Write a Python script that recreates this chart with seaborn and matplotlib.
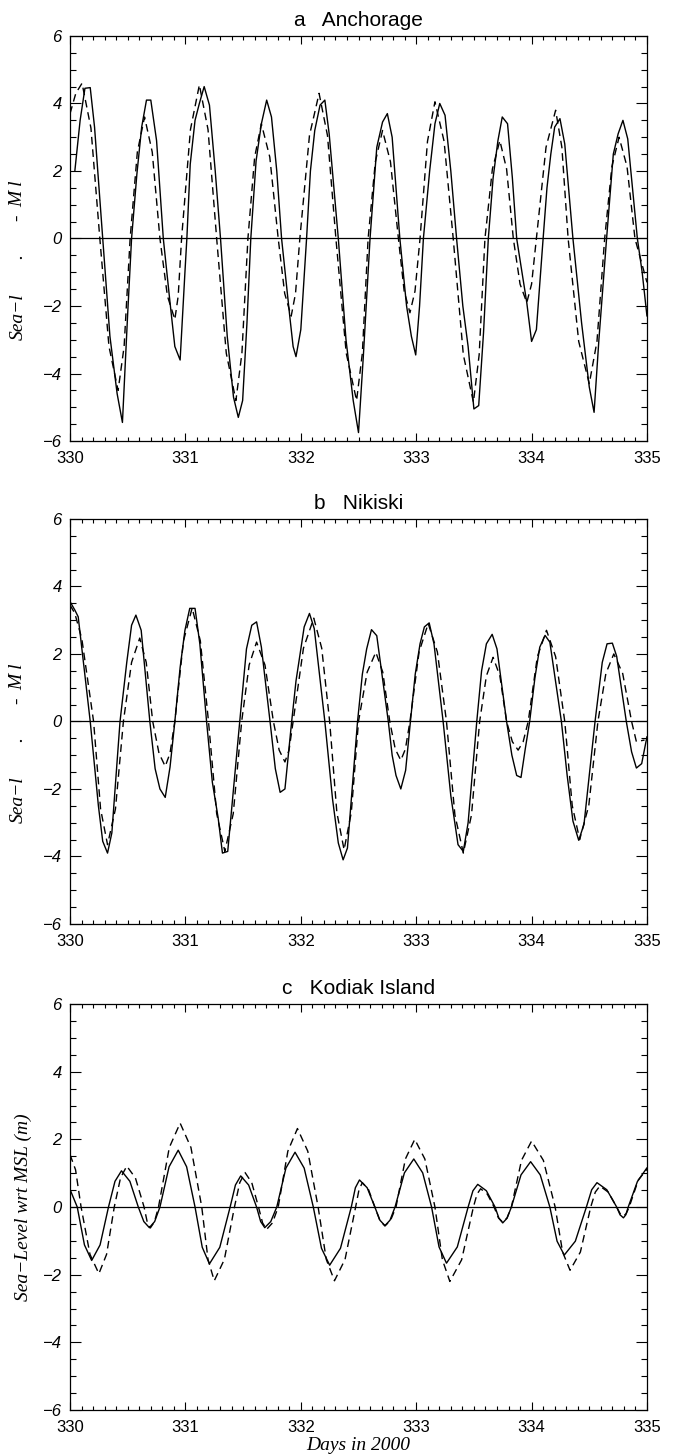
import matplotlib
matplotlib.use("Agg")
import matplotlib.pyplot as plt
import seaborn as sns
from matplotlib.ticker import MultipleLocator

# ---- data: hours after day 330 and sea level (m) ----
# solid = observed, dashed = model
a_obs_h = [1, 2.1, 3.1, 4.2, 5.1, 6.8, 8.3, 9.8, 10.9, 12.0, 12.8, 13.9, 14.9, 15.9, 16.8, 18.0, 19.4, 20.8, 21.8, 22.9,
           23.9, 24.3, 25.0, 26.0, 26.9, 27.9, 29.0, 30.2, 31.3, 32.7, 34.0, 35.0, 35.9, 36.8, 37.6, 38.7, 39.8, 40.9,
           41.9, 43.0, 44.0, 45.7, 46.4, 47.0, 48.0, 49.2, 50.0, 50.9, 52.0, 53.0, 53.9, 55.8, 57.4, 58.9, 60.0, 61.0,
           62.4, 63.8, 65.0, 66.0, 67.0, 68.6, 70.0, 71.0, 71.9, 72.7, 73.5, 74.8, 75.9, 76.9, 78.0, 79.2, 80.4, 81.7,
           82.8, 84.0, 85.0, 86.0, 87.0, 88.0, 89.0, 89.9, 91.0, 92.0, 92.9, 94.0, 95.0, 96.0, 97.0, 98.4, 99.2, 100.0,
           100.8, 101.9, 102.9, 104.6, 106.4, 108.0, 109.0, 110.0, 111.6, 113.0, 114.0, 115.0, 116.0, 118.0, 119.0, 120.0]
a_obs_v = [2.0, 3.5, 4.45, 4.47, 3.3, 0, -2.9, -4.6, -5.45, -2.2, 0, 1.9, 3.3, 4.1, 4.1, 2.9, 0, -1.9, -3.2, -3.6,
           -1.0, 0, 2.2, 3.5, 4.0, 4.5, 3.95, 2.0, 0, -2.9, -4.7, -5.3, -4.8, -2.5, 0, 2.3, 3.4, 4.1,
           3.6, 2.0, 0, -2.3, -3.2, -3.5, -2.7, 0, 2.0, 3.2, 3.95, 4.1, 3.1, 0, -3.0, -4.8, -5.75, -3.5,
           0, 2.7, 3.45, 3.7, 3.0, 0, -2.0, -2.9, -3.45, -2.0, 0, 2.0, 3.4, 4.0, 3.65, 2.0, 0, -2.0,
           -3.2, -5.05, -4.95, -2.8, 0, 1.8, 2.9, 3.6, 3.4, 1.8, 0, -1.0, -1.9, -3.05, -2.7, 0, 1.5, 2.5,
           3.3, 3.55, 2.8, 0, -2.5, -4.4, -5.15, -3.0, 0, 2.5, 3.1, 3.5, 2.95, 0, -1.0, -2.3]

a_mod_h = [0, 1.2, 2.5, 4.35, 6.2, 8.1, 10.0, 11.25, 12.5, 14.0, 15.5, 17.1, 18.7, 20.25, 21.8, 22.5, 23.2, 25.05,
           26.9, 28.7, 30.5, 32.5, 34.5, 35.75, 37.0, 38.4, 39.8, 41.55, 43.3, 44.65, 46.0, 46.9, 47.8, 49.8, 51.8,
           53.55, 55.3, 57.45, 59.6, 60.8, 62.0, 63.5, 65.0, 66.65, 68.3, 69.5, 70.7, 71.75, 72.8, 74.35, 75.9, 77.8,
           79.7, 81.8, 83.9, 85.1, 86.3, 87.85, 89.4, 90.8, 92.2, 93.6, 95.0, 96.0, 97.0, 99.0, 101.0, 102.3, 103.6,
           105.8, 108.0, 109.6, 111.2, 112.7, 114.2, 115.85, 117.5, 120.0]
a_mod_v = [3.7, 4.3, 4.6, 3.27, 0, -3.2, -4.5, -3.2, 0, 2.56, 3.6, 2.56, 0, -1.7, -2.4, -1.7, 0, 3.23,
           4.55, 3.23, 0, -3.4, -4.8, -3.4, 0, 2.41, 3.4, 2.41, 0, -1.63, -2.3, -1.63, 0, 3.05, 4.3,
           3.05, 0, -3.4, -4.8, -3.4, 0, 2.27, 3.2, 2.27, 0, -1.56, -2.2, -1.56, 0, 2.88, 4.05, 2.88,
           0, -3.44, -4.85, -3.44, 0, 2.06, 2.9, 2.06, 0, -1.35, -1.9, -1.35, 0, 2.7, 3.8, 2.7, 0,
           -3.05, -4.3, -3.05, 0, 2.13, 3.0, 2.13, 0, -1.3]

b_obs_h = [0, 1.0, 1.7, 4.2, 5.9, 6.8, 7.8, 8.7, 10.4, 11.8, 12.8, 13.7, 14.8, 16.6, 17.7, 18.7, 19.8, 20.8, 21.8,
           22.9, 23.9, 24.9, 26.0, 27.0, 28.4, 29.6, 30.8, 31.7, 32.8, 34.0, 35.3, 36.7, 37.8, 38.8, 39.8, 41.6, 42.7,
           43.7, 44.7, 46.1, 47.0, 47.8, 48.7, 49.8, 50.8, 53.0, 54.6, 55.8, 56.8, 57.7, 59.8, 60.8, 61.7, 62.7, 63.8,
           66.2, 67.0, 67.8, 68.8, 69.8, 70.8, 71.8, 72.8, 73.7, 74.7, 75.7, 77.6, 79.2, 80.7, 81.8, 82.8, 84.6, 85.6,
           86.6, 87.8, 88.8, 90.8, 91.9, 92.9, 93.8, 94.7, 95.6, 96.7, 97.7, 98.8, 99.8, 102.2, 103.4, 104.6, 105.8,
           106.9, 109.2, 110.7, 111.7, 112.8, 113.7, 115.7, 116.8, 117.8, 118.9, 120.0]
b_obs_v = [3.55, 3.3, 3.1, 0, -2.5, -3.55, -3.9, -3.3, 0, 1.75, 2.85, 3.15, 2.7, 0, -1.4, -2.0, -2.25, -1.35, 0,
           1.6, 2.7, 3.35, 3.35, 2.3, 0, -1.8, -2.85, -3.9, -3.85, -2.0, 0, 2.15, 2.85, 2.95, 2.2, 0, -1.4,
           -2.1, -2.0, 0, 1.2, 1.95, 2.8, 3.2, 2.75, 0, -2.3, -3.6, -4.1, -3.75, 0, 1.4, 2.15, 2.72, 2.54,
           0, -1.0, -1.6, -2.0, -1.45, 0, 1.4, 2.3, 2.8, 2.92, 2.3, 0, -2.2, -3.65, -3.85, -3.0, 0, 1.5,
           2.3, 2.58, 2.15, 0, -1.0, -1.6, -1.66, -0.8, 0, 1.3, 2.2, 2.55, 2.35, 0, -1.6, -2.95, -3.52,
           -3.05, 0, 1.75, 2.3, 2.32, 1.93, 0, -0.9, -1.38, -1.25, -0.45]

b_mod_h = [0, 1.0, 2.45, 4.9, 6.35, 7.8, 9.45, 11.1, 12.8, 14.5, 15.85, 17.2, 18.5, 19.8, 20.8, 21.8, 23.6, 25.4,
           27.1, 28.8, 30.5, 32.2, 33.95, 35.7, 37.25, 38.8, 40.55, 42.3, 43.5, 44.7, 45.55, 46.4, 48.55, 50.7, 52.35,
           54.0, 55.5, 57.0, 58.5, 60.0, 61.8, 63.6, 65.05, 66.5, 67.65, 68.8, 69.75, 70.7, 72.6, 74.5, 76.4, 78.3,
           80.05, 81.8, 83.5, 85.2, 86.6, 88.0, 89.4, 90.8, 92.0, 93.2, 94.25, 95.3, 97.2, 99.1, 101.0, 102.9,
           104.45, 106.0, 107.9, 109.8, 111.45, 113.1, 114.95, 116.8, 117.8, 119.5]
b_mod_v = [3.45, 3.2, 2.45, 0, -2.59, -3.65, -2.59, 0, 1.75, 2.47, 1.75, 0, -0.94, -1.33, -0.94, 0, 2.39, 3.36,
           2.39, 0, -2.73, -3.85, -2.73, 0, 1.67, 2.35, 1.67, 0, -0.85, -1.2, -0.85, 0, 2.17, 3.06, 2.17,
           0, -2.7, -3.8, -2.7, 0, 1.46, 2.05, 1.46, 0, -0.82, -1.15, -0.82, 0, 2.06, 2.9, 2.06, 0,
           -2.77, -3.9, -2.77, 0, 1.35, 1.9, 1.35, 0, -0.6, -0.85, -0.6, 0, 1.92, 2.7, 1.92, 0,
           -2.49, -3.5, -2.49, 0, 1.42, 2.0, 1.42, 0, -0.6, -0.55]

c_obs_h = [0, 1.5, 3.0, 4.5, 6.25, 8.0, 9.35, 10.7, 12.45, 14.2, 15.35, 16.5, 17.6, 18.7, 20.6, 22.5, 24.25, 26.0,
           27.5, 29.0, 31.15, 33.3, 34.4, 35.5, 37.15, 38.8, 39.65, 40.5, 41.75, 43.0, 44.9, 46.8, 48.7, 50.6, 52.3,
           54.0, 56.25, 58.5, 59.35, 60.2, 61.8, 63.4, 64.45, 65.5, 66.55, 67.6, 69.55, 71.5, 73.35, 75.2, 76.75,
           78.3, 80.55, 82.8, 83.8, 84.8, 86.6, 88.4, 89.2, 90.0, 90.9, 91.8, 93.8, 95.8, 97.8, 99.8, 101.3, 102.8,
           105.1, 107.4, 108.5, 109.6, 111.65, 113.7, 114.4, 115.1, 115.6, 116.1, 118.0, 120.0]
c_obs_v = [0.52, 0, -1.12, -1.58, -1.12, 0, 0.76, 1.07, 0.76, 0, -0.43, -0.61, -0.43, 0, 1.19, 1.68, 1.19, 0,
           -1.19, -1.68, -1.19, 0, 0.65, 0.92, 0.65, 0, -0.43, -0.61, -0.43, 0, 1.15, 1.62, 1.15, 0, -1.22,
           -1.72, -1.22, 0, 0.57, 0.8, 0.57, 0, -0.39, -0.55, -0.39, 0, 1.01, 1.42, 1.01, 0, -1.18,
           -1.66, -1.18, 0, 0.48, 0.67, 0.48, 0, -0.33, -0.47, -0.33, 0, 0.95, 1.34, 0.95, 0, -1.01, -1.42,
           -1.01, 0, 0.51, 0.72, 0.51, 0, -0.23, -0.32, -0.23, 0, 0.75, 1.16]

c_mod_h = [0, 1.15, 2.3, 4.15, 6.0, 7.6, 9.2, 10.5, 11.8, 13.6, 15.4, 16.05, 16.7, 17.55, 18.4, 20.65, 22.9, 25.15,
           27.4, 28.7, 30.0, 32.1, 34.2, 35.3, 36.4, 37.8, 39.2, 40.05, 40.9, 42.1, 43.3, 45.3, 47.3, 49.45, 51.6,
           53.3, 55.0, 57.2, 59.4, 60.1, 60.8, 62.1, 63.4, 64.45, 65.5, 66.65, 67.8, 69.75, 71.7, 73.8, 75.9, 77.45,
           79.0, 81.45, 83.9, 84.65, 85.4, 86.8, 88.2, 89.1, 90.0, 90.9, 91.8, 93.9, 96.0, 98.45, 100.9, 102.45,
           104.0, 106.15, 108.3, 109.25, 110.2, 111.95, 113.7, 114.4, 115.1, 115.7, 116.3, 118.2, 120.0]
c_mod_v = [1.55, 1.1, 0, -1.4, -1.97, -1.4, 0, 0.86, 1.21, 0.86, 0, -0.44, -0.62, -0.44, 0, 1.76, 2.48, 1.76,
           0, -1.55, -2.18, -1.55, 0, 0.72, 1.02, 0.72, 0, -0.47, -0.66, -0.47, 0, 1.65, 2.32, 1.65, 0,
           -1.55, -2.18, -1.55, 0, 0.51, 0.72, 0.51, 0, -0.4, -0.56, -0.4, 0, 1.42, 2.0, 1.42, 0, -1.56,
           -2.2, -1.56, 0, 0.38, 0.54, 0.38, 0, -0.32, -0.45, -0.32, 0, 1.38, 1.95, 1.38, 0, -1.33,
           -1.87, -1.33, 0, 0.44, 0.62, 0.44, 0, -0.19, -0.27, -0.19, 0, 0.8, 1.12]

titles = ["a   Anchorage", "b   Nikiski", "c   Kodiak Island"]
day0 = 330
xticks = [330, 331, 332, 333, 334, 335]
yticks = [-6, -4, -2, 0, 2, 4, 6]

sns.set_style("ticks")
plt.rcParams["font.family"] = ["Liberation Sans", "DejaVu Sans"]
# plain black text and frame, like the original IDL plot
for key in ["text.color", "axes.labelcolor", "xtick.color", "ytick.color", "axes.edgecolor"]:
    plt.rcParams[key] = "black"


# draw one station panel: solid observed and dashed model curve
def station_plot(ax, obs_h, obs_v, mod_h, mod_v, title):
    sns.lineplot(x=[day0 + h / 24 for h in obs_h], y=obs_v, ax=ax, color="black",
                 linewidth=1.0, sort=False, estimator=None)
    sns.lineplot(x=[day0 + h / 24 for h in mod_h], y=mod_v, ax=ax, color="black",
                 linewidth=1.0, sort=False, estimator=None, linestyle=(0, (5.5, 3.5)))
    ax.axhline(0, color="black", linewidth=0.9)
    ax.set_xlim(330, 335)
    ax.set_ylim(-6, 6)
    ax.set_xticks(xticks)
    ax.set_yticks(yticks)
    ax.xaxis.set_minor_locator(MultipleLocator(0.1))
    ax.yaxis.set_minor_locator(MultipleLocator(0.5))
    ax.tick_params(axis="x", which="major", direction="in", length=6, width=0.8,
                   top=True, labelsize=12, pad=7)
    ax.tick_params(axis="x", which="minor", direction="in", length=3, width=0.8, top=True)
    ax.tick_params(axis="y", which="major", direction="in", length=8, width=0.8,
                   right=True, labelsize=12, pad=6)
    ax.tick_params(axis="y", which="minor", direction="in", length=4.5, width=0.8, right=True)
    for lab in ax.get_yticklabels():
        lab.set_fontstyle("italic")
    for side in ax.spines.values():
        side.set_linewidth(0.9)
        side.set_visible(True)
    ax.set_xlabel("")
    ax.set_ylabel("")
    ax.set_title(title, fontsize=15, pad=7)
    return ax


fig = plt.figure(figsize=(6.74, 14.56), dpi=100)
ax_a = fig.add_axes([0.1039, 0.6971, 0.856, 0.2782])
ax_b = fig.add_axes([0.1039, 0.3654, 0.856, 0.2782])
ax_c = fig.add_axes([0.1039, 0.0316, 0.856, 0.2788])

station_plot(ax_a, a_obs_h, a_obs_v, a_mod_h, a_mod_v, titles[0])
station_plot(ax_b, b_obs_h, b_obs_v, b_mod_h, b_mod_v, titles[1])
station_plot(ax_c, c_obs_h, c_obs_v, c_mod_h, c_mod_v, titles[2])

# upper panels only show pieces of the y label
serif_it = dict(family=["Liberation Serif", "DejaVu Serif"], style="italic", fontsize=14)
for ax in (ax_a, ax_b):
    ax.text(-0.09, 0.25, "Sea\u2212l", rotation=90, transform=ax.transAxes,
            ha="center", va="bottom", **serif_it)
    ax.text(-0.09, 0.455, ".", rotation=90, transform=ax.transAxes,
            ha="center", va="center", **serif_it)
    ax.text(-0.09, 0.55, "-", rotation=90, transform=ax.transAxes,
            ha="center", va="center", **serif_it)
    ax.text(-0.09, 0.578, "M l", rotation=90, transform=ax.transAxes,
            ha="center", va="bottom", **serif_it)

ax_c.set_ylabel("Sea\u2212Level wrt MSL (m)", labelpad=8, **serif_it)
ax_c.set_xlabel("Days in 2000", labelpad=2, **serif_it)

fig.savefig("out.png", dpi=100)
